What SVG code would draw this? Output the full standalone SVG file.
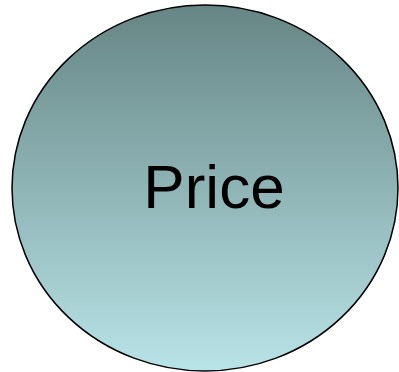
<svg xmlns="http://www.w3.org/2000/svg" width="399" height="372" viewBox="0 0 399 372">
<defs>
<linearGradient id="g" x1="0" y1="0" x2="0" y2="1">
<stop offset="0" stop-color="#668585"/>
<stop offset="1" stop-color="#b8e3e7"/>
</linearGradient>
</defs>
<style>.lbl{font-family:"Liberation Sans",Arial,sans-serif;font-size:62px;fill:#000}</style>
<rect width="399" height="372" fill="#fff"/>
<g id="price">
<ellipse cx="205" cy="188" rx="193" ry="183" fill="url(#g)" stroke="#000" stroke-width="1.5"/>
<text class="lbl" x="214" y="208" text-anchor="middle">Price</text>
</g>
<g id="connectors"/>
</svg>
